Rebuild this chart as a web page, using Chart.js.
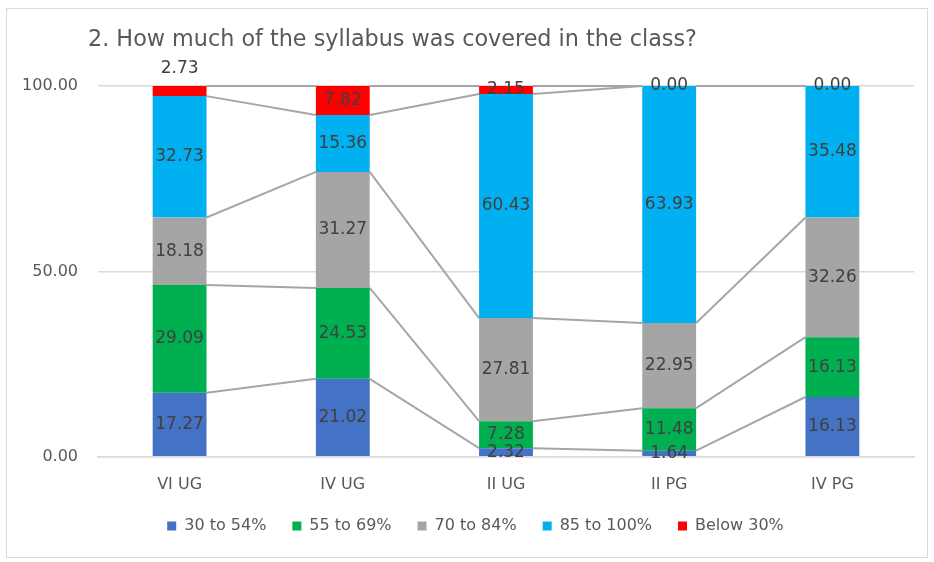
<!DOCTYPE html>
<html>
<head>
<meta charset="utf-8">
<script src="https://cdn.jsdelivr.net/npm/chart.js@4/dist/chart.umd.min.js"></script>
<style>
  body { margin: 0; background: #fff; font-family: "DejaVu Sans", sans-serif; overflow: hidden; }
  #box { position: absolute; left: 6px; top: 8px; width: 920px; height: 548px; border: 1px solid #d9d9d9; }
  #title { position: absolute; left: 81px; top: 16px; font-size: 22.3px; color: #595959; white-space: nowrap; }
  canvas { position: absolute; left: 0; top: 0; }
</style>
</head>
<body>
<div id="box">
  <canvas id="chart" width="920" height="556"></canvas>
  <div id="title">2. How much of the syllabus was covered in the class?</div>
</div>
<script>
const categories = ["VI UG", "IV UG", "II UG", "II PG", "IV PG"];
const seriesNames = ["30 to 54%", "55 to 69%", "70 to 84%", "85 to 100%", "Below 30%"];
const s30to54 = [17.27, 21.02, 2.32, 1.64, 16.13];
const s55to69 = [29.09, 24.53, 7.28, 11.48, 16.13];
const s70to84 = [18.18, 31.27, 27.81, 22.95, 32.26];
const s85to100 = [32.73, 15.36, 60.43, 63.93, 35.48];
const sBelow30 = [2.73, 7.82, 2.15, 0.00, 0.00];
const yTicks = [0, 50, 100];

const colors = ["#4472C4", "#00B050", "#A5A5A5", "#00B0F0", "#FF0000"];
const allSeries = [s30to54, s55to69, s70to84, s85to100, sBelow30];

const fontFamily = '"DejaVu Sans", sans-serif';

// Excel-style series lines between the stacked bars
const seriesLines = {
    id: 'seriesLines',
    beforeDatasetsDraw(chart) {
        const ctx = chart.ctx;
        ctx.save();
        ctx.strokeStyle = '#A6A6A6';
        ctx.lineWidth = 2;
        chart.data.datasets.forEach((ds, d) => {
            const bars = chart.getDatasetMeta(d).data;
            for (let i = 0; i < bars.length - 1; i++) {
                const a = bars[i], b = bars[i + 1];
                ctx.beginPath();
                ctx.moveTo(a.x + a.width / 2, a.y);
                ctx.lineTo(b.x - b.width / 2, b.y);
                ctx.stroke();
            }
        });
        ctx.restore();
    }
};

// value labels in the middle of each segment
const raisedLabels = [[4, 0]];
const valueLabels = {
    id: 'valueLabels',
    afterDatasetsDraw(chart) {
        const ctx = chart.ctx;
        ctx.save();
        ctx.font = '17px ' + fontFamily;
        ctx.fillStyle = '#404040';
        ctx.textAlign = 'center';
        ctx.textBaseline = 'middle';
        chart.data.datasets.forEach((ds, d) => {
            chart.getDatasetMeta(d).data.forEach((bar, i) => {
                let y = (bar.y + bar.base) / 2;
                if (raisedLabels.some(r => r[0] === d && r[1] === i)) y = bar.y - 17;
                ctx.fillText(ds.data[i].toFixed(2), bar.x, y);
            });
        });
        ctx.restore();
    }
};

// wide gaps between legend items, but legend sits closer to the axis
const legendShift = {
    id: 'legendShift',
    afterLayout(chart) {
        const lg = chart.legend;
        lg.top -= 20; lg.bottom -= 20;
        lg.left += 15; lg.right += 15;
    }
};

new Chart(document.getElementById('chart'), {
    type: 'bar',
    data: {
        labels: categories,
        datasets: allSeries.map((vals, k) => ({
            label: seriesNames[k],
            data: vals,
            backgroundColor: colors[k],
            borderWidth: 0,
            categoryPercentage: 1,
            barPercentage: 0.33
        }))
    },
    options: {
        responsive: false,
        animation: false,
        layout: { padding: { top: 77, right: 13, left: 0, bottom: 1 } },
        plugins: {
            legend: {
                position: 'bottom',
                labels: {
                    color: '#595959',
                    font: { size: 16, family: fontFamily },
                    boxWidth: 9,
                    boxHeight: 9,
                    padding: 26
                }
            },
            tooltip: { enabled: false }
        },
        scales: {
            x: {
                stacked: true,
                grid: { display: false, drawTicks: false },
                border: { color: '#D9D9D9', width: 1.5 },
                ticks: { color: '#595959', font: { size: 16, family: fontFamily }, padding: 18 }
            },
            y: {
                stacked: true,
                min: 0,
                max: 100,
                afterBuildTicks(scale) { scale.ticks = yTicks.map(v => ({ value: v })); },
                afterFit(scale) { scale.width = 91; },
                grid: { color: '#D9D9D9', lineWidth: 1.5, drawTicks: false },
                border: { display: false },
                ticks: {
                    color: '#595959',
                    font: { size: 16, family: fontFamily },
                    padding: 20,
                    callback: v => v.toFixed(2)
                }
            }
        }
    },
    plugins: [seriesLines, valueLabels, legendShift]
});
</script>
</body>
</html>
